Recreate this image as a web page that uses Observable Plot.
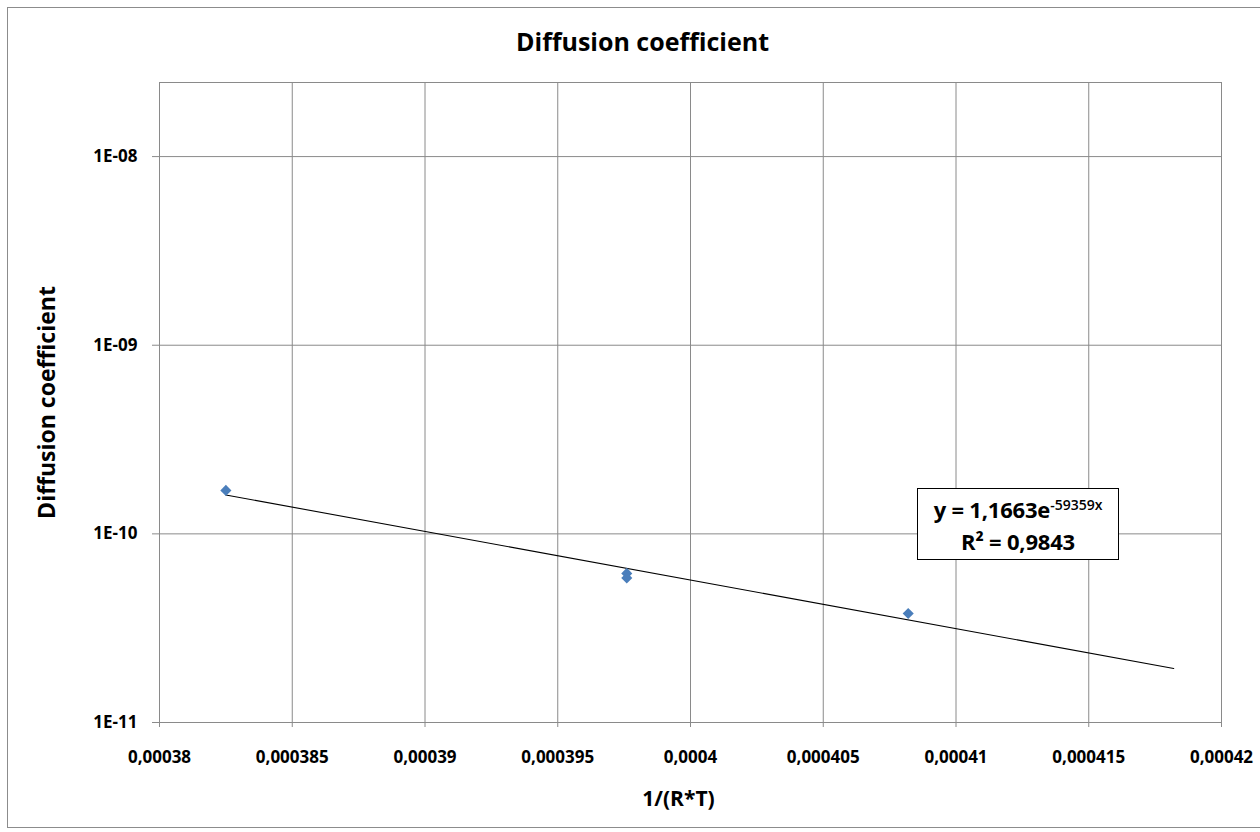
<!DOCTYPE html>
<html>
<head>
<meta charset="utf-8">
<script src="https://cdn.jsdelivr.net/npm/d3@7"></script>
<script src="https://cdn.jsdelivr.net/npm/@observablehq/plot@0.6"></script>
<style>
  body { margin: 0; background: #fff; }
  #chart { position: relative; width: 1260px; height: 832px; overflow: hidden; font-family: "Open Sans", sans-serif; color: #000; }
  #border { position: absolute; left: 7px; top: 7px; width: 1300px; height: 821px; border: 1px solid #8c8c8c; box-sizing: border-box; }
  #plot { position: absolute; left: 0; top: 0; }
  #equation { position: absolute; left: 917px; top: 488px; width: 202px; height: 72px; box-sizing: border-box;
              border: 1px solid #000; background: #fff; text-align: center; font-size: 22px; font-weight: bold;
              line-height: 32px; padding-top: 4px; white-space: nowrap; letter-spacing: -0.2px; }
  #equation sup { font-size: 14px; font-weight: 600; vertical-align: 8px; line-height: 0; letter-spacing: 0; }
</style>
</head>
<body>
<div id="chart">
  <div id="border"></div>
  <div id="plot"></div>
  <div id="equation"></div>
</div>
<script>
// Measured diffusion coefficients against 1/(R*T)
const invRT = [0.0003825, 0.0003976, 0.0003976, 0.0004082];
const diffusion = [1.70e-10, 6.17e-11, 5.83e-11, 3.78e-11];

// Axis ticks
const xTicks = [0.00038, 0.000385, 0.00039, 0.000395, 0.0004, 0.000405, 0.00041, 0.000415, 0.00042];
const yTicks = [1e-11, 1e-10, 1e-9, 1e-8];
const yMax = 2.47e-8;

// Exponential trendline y = a·e^(b·x), extended forward past the last point
const trendA = 1.1663;
const trendB = -59359;
const trendR2 = 0.9843;
const trendForward = 0.00001;

const titleText = "Diffusion coefficient";
const xLabel = "1/(R*T)";
const yLabel = "Diffusion coefficient";

const points = invRT.map((x, i) => ({x, y: diffusion[i]}));
const trendX = [d3.min(invRT), d3.max(invRT) + trendForward];
const trend = trendX.map(x => ({x, y: trendA * Math.exp(trendB * x)}));

const comma = v => String(v).replace(".", ",");
const fmtX = d => comma(+d.toPrecision(6));
const fmtY = d => "1E-" + String(-Math.round(Math.log10(d))).padStart(2, "0");

const plot = Plot.plot({
  width: 1260,
  height: 832,
  marginLeft: 159,
  marginRight: 39,
  marginTop: 82,
  marginBottom: 110,
  style: {fontFamily: "'Open Sans', sans-serif", fontSize: "17px", fontWeight: "bold", background: "transparent", color: "#000"},
  x: {type: "linear", domain: [xTicks[0], xTicks[xTicks.length - 1]]},
  y: {type: "log", domain: [yTicks[0], yMax]},
  marks: [
    Plot.gridX(xTicks, {stroke: "#8a8a8a", strokeOpacity: 1}),
    Plot.gridY(yTicks, {stroke: "#8a8a8a", strokeOpacity: 1}),
    Plot.frame({stroke: "#8a8a8a"}),
    Plot.axisX(xTicks, {tickFormat: fmtX, tickSize: 5, tickPadding: 23, stroke: "#8a8a8a", fill: "#000", fontSize: 17, label: null}),
    Plot.axisY(yTicks, {tickFormat: fmtY, tickSize: 7, tickPadding: 15, stroke: "#8a8a8a", fill: "#000", fontSize: 17, label: null}),
    Plot.line(trend, {x: "x", y: "y", stroke: "#000", strokeWidth: 1.1}),
    Plot.dot(points, {x: "x", y: "y", symbol: "diamond2", r: 5, fill: "#4a7ebb", stroke: "none"}),
    Plot.text([titleText], {frameAnchor: "top", dx: -48, dy: -40, lineAnchor: "middle", textAnchor: "middle", fontSize: 25, fontWeight: "bold"}),
    Plot.text([xLabel], {frameAnchor: "bottom", dx: -12, dy: 77, lineAnchor: "middle", textAnchor: "middle", fontSize: 21, fontWeight: "bold"}),
    Plot.text([yLabel], {frameAnchor: "left", dx: -112, dy: 0, rotate: -90, lineAnchor: "middle", textAnchor: "middle", fontSize: 23, fontWeight: "bold", letterSpacing: "-0.3px"})
  ]
});
document.getElementById("plot").appendChild(plot);

document.getElementById("equation").innerHTML =
  `y = ${comma(trendA)}e<sup>${trendB}x</sup><br>R² = ${comma(trendR2)}`;
</script>
</body>
</html>
